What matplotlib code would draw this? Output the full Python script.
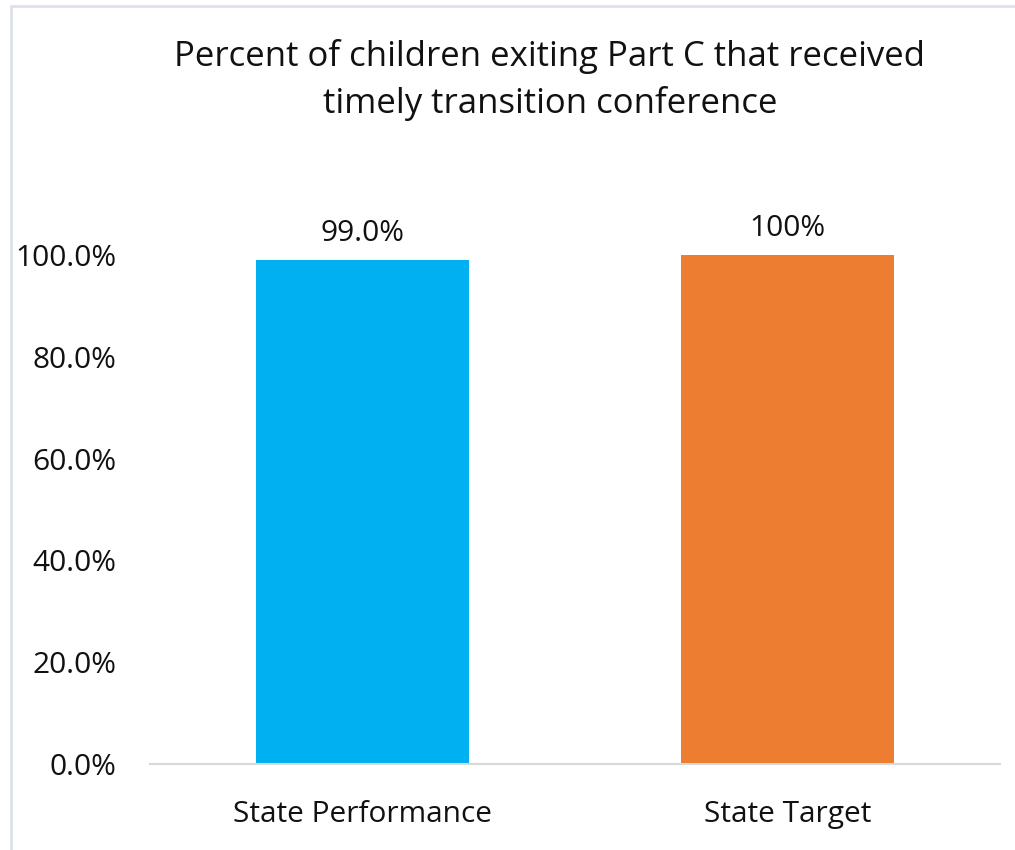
import matplotlib
matplotlib.use("Agg")
import matplotlib.pyplot as plt
from matplotlib.patches import Rectangle
from matplotlib.ticker import FuncFormatter

categories = ["State Performance", "State Target"]
values = [99.0, 100.0]
value_labels = ["99.0%", "100%"]
colors = ["#00B0F0", "#ED7D31"]
title = "Percent of children exiting Part C that received\ntimely transition conference"

plt.rcParams['font.family'] = ['Open Sans', 'DejaVu Sans']

W, H = 1015, 850
fig = plt.figure(figsize=(W/100, H/100), dpi=100)
fig.patch.set_facecolor("white")

# chart border (partially visible)
fig.add_artist(Rectangle((11/W, -0.1), 2.0, (H-6)/H + 0.1, transform=fig.transFigure,
                         fill=False, edgecolor="#DDE1E9", linewidth=2.0))

ax = fig.add_axes([150/W, 86/H, 850/W, 509/H])
x = list(range(len(categories)))
ax.bar(x, values, width=0.5, color=colors)
ax.set_xlim(-0.5, 1.5)
ax.set_ylim(0, 100)
ax.set_yticks([0, 20, 40, 60, 80, 100])
ax.yaxis.set_major_formatter(FuncFormatter(lambda v, p: f"{v:.1f}%"))
ax.set_xticks(x)
ax.set_xticklabels(categories)
for s in ["top", "right", "left"]:
    ax.spines[s].set_visible(False)
ax.spines["bottom"].set_color("#D9D9D9")
ax.spines["bottom"].set_linewidth(1.5)
ax.tick_params(axis="y", length=0, pad=24, labelsize=21.5, labelcolor="#111111")
ax.tick_params(axis="x", length=0, pad=26, labelsize=21.5, labelcolor="#111111")

for xi, v, lab in zip(x, values, value_labels):
    ax.annotate(lab, (xi, v), xytext=(0, 9), textcoords="offset points",
                ha="center", va="bottom", fontsize=21.5, color="#111111", clip_on=False)

fig.text(550/W, 1 - 80/H, title, ha="center", va="center", fontsize=25,
         color="#111111", linespacing=1.42)

fig.savefig("out.png", dpi=100)
